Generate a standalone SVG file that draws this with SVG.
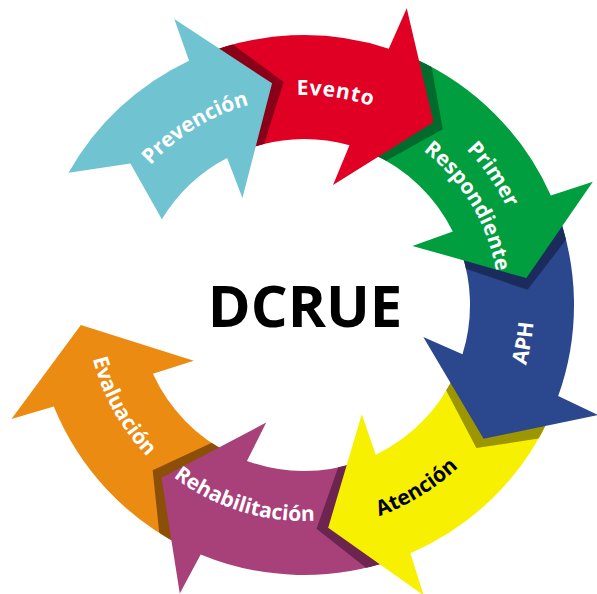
<svg xmlns="http://www.w3.org/2000/svg" width="597" height="594" viewBox="0 0 597 594">
<style>
.lbl{font-family:"Open Sans","Noto Sans","DejaVu Sans",sans-serif;font-weight:700;font-size:21px;fill:#fff}
.dark{fill:#000}
.title{font-family:"Open Sans","Noto Sans","DejaVu Sans",sans-serif;font-weight:700;font-size:58px;fill:#000}
</style>
<defs>
<path id="arrow" d="M-231.44,-139.06 A270,270 0 0 1 -78.94,-258.2 L-87.6,-301.53 L0,-224 L-45.66,-114.75 L-55.14,-156.57 A166,166 0 0 0 -142.29,-85.5 Z"/>
<path id="arrowTail" d="M-214.2,-164.37 A270,270 0 0 1 -78.94,-258.2 L-87.6,-301.53 L0,-224 L-45.66,-114.75 L-55.14,-156.57 A166,166 0 0 0 -128.46,-105.14 L-151.62,-164.89 Z"/>
<path id="head" d="M-78.94,-258.2 L-87.6,-301.53 L0,-224 L-45.66,-114.75 L-55.14,-156.57 Z"/>
<clipPath id="ring" clipPathUnits="userSpaceOnUse">
<path clip-rule="evenodd" d="M34,305 a270,270 0 1,0 540,0 a270,270 0 1,0 -540,0 Z M138,305 a166,166 0 1,0 332,0 a166,166 0 1,0 -332,0 Z"/>
</clipPath>
<path id="cw207" d="M-194.99,-70.97 A207.5,207.5 0 0 1 194.99,-70.97"/>
<path id="cw210" d="M-197.34,-71.82 A210,210 0 0 1 197.34,-71.82"/>
<path id="cw225" d="M-211.43,-76.95 A225,225 0 0 1 211.43,-76.95"/>
<path id="cw195" d="M-183.24,-66.69 A195,195 0 0 1 183.24,-66.69"/>
<path id="ccw230" d="M-216.13,78.66 A230,230 0 0 0 216.13,78.66"/>
<path id="ccw224" d="M-210.49,76.61 A224,224 0 0 0 210.49,76.61"/>
<path id="ccw216" d="M-202.98,73.87 A216,216 0 0 0 202.98,73.87"/>
<path id="ccw218" d="M-204.85,74.56 A218,218 0 0 0 204.85,74.56"/>
</defs>

<g id="evaluacion">
<use href="#arrow" transform="translate(304 305) rotate(264.9)" fill="#eb8b12"/>
<text class="lbl" transform="translate(304 305) rotate(60.8)" font-size="22"><textPath href="#ccw218" startOffset="50%" text-anchor="middle">Evaluación</textPath></text>
</g>

<g id="rehabilitacion">
<g clip-path="url(#ring)"><use href="#head" transform="translate(304 305) rotate(222.5)" fill="#8c4f07"/></g>
<use href="#arrow" transform="translate(304 305) rotate(219.5)" fill="#a84079"/>
<text class="lbl" transform="translate(304 305) rotate(17.2)" font-size="20"><textPath href="#ccw216" startOffset="50%" text-anchor="middle">Rehabilitación</textPath></text>
</g>

<g id="atencion">
<g clip-path="url(#ring)"><use href="#head" transform="translate(304 305) rotate(176.8)" fill="#6c254f"/></g>
<use href="#arrow" transform="translate(304 305) rotate(173.8)" fill="#f7f000"/>
<text class="lbl dark" transform="translate(304 305) rotate(-31.6)"><textPath href="#ccw224" startOffset="50%" text-anchor="middle">Atención</textPath></text>
</g>

<g id="aph">
<g clip-path="url(#ring)"><use href="#head" transform="translate(304 305) rotate(129.7)" fill="#9c9600"/></g>
<use href="#arrow" transform="translate(304 305) rotate(126.7)" fill="#2b478d"/>
<text class="lbl" transform="translate(304 305) rotate(-80.2)" font-size="24"><textPath href="#ccw230" startOffset="50%" text-anchor="middle">APH</textPath></text>
</g>

<g id="primer-respondiente">
<g clip-path="url(#ring)"><use href="#head" transform="translate(304 305) rotate(86.1)" fill="#1b2c5c"/></g>
<use href="#arrow" transform="translate(304 305) rotate(83.1)" fill="#009e3f"/>
<text class="lbl" transform="translate(304 305) rotate(55.3)"><textPath href="#cw225" startOffset="50%" text-anchor="middle">Primer</textPath></text>
<text class="lbl" transform="translate(304 305) rotate(58.9)" font-size="20"><textPath href="#cw195" startOffset="50%" text-anchor="middle">Respondiente</textPath></text>
</g>

<g id="evento">
<g clip-path="url(#ring)"><use href="#head" transform="translate(304 305) rotate(38.3)" fill="#006b2c"/></g>
<use href="#arrow" transform="translate(304 305) rotate(35.3)" fill="#df0024"/>
<text class="lbl" transform="translate(304 305) rotate(8.5)" letter-spacing="0.8"><textPath href="#cw210" startOffset="50%" text-anchor="middle">Evento</textPath></text>
</g>

<g id="prevencion">
<g clip-path="url(#ring)"><use href="#head" transform="translate(304 305) rotate(-5.2)" fill="#8a0018"/></g>
<use href="#arrowTail" transform="translate(304 305) rotate(-8.2)" fill="#70c3d0"/>
<text class="lbl" transform="translate(304 305) rotate(-31.5)" font-size="22"><textPath href="#cw207" startOffset="50%" text-anchor="middle">Prevención</textPath></text>
</g>

<g id="connectors"></g>

<g id="dcrue">
<text class="title" x="305" y="327" text-anchor="middle">DCRUE</text>
</g>
</svg>
